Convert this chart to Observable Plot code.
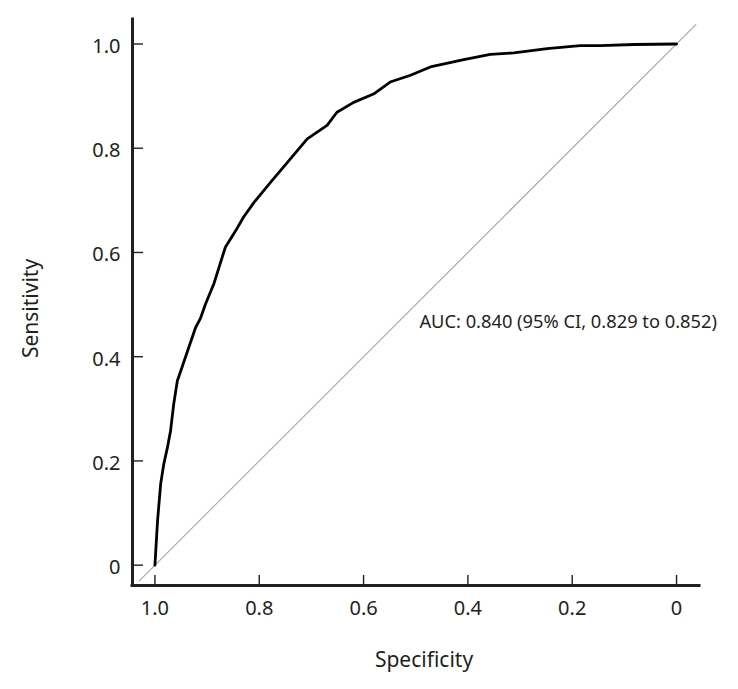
<!DOCTYPE html>
<html>
<head>
<meta charset="utf-8">
<script src="https://cdn.jsdelivr.net/npm/d3@7"></script>
<script src="https://cdn.jsdelivr.net/npm/@observablehq/plot@0.6"></script>
<style>
  html, body { margin: 0; padding: 0; background: #ffffff; }
  #chart { width: 738px; height: 689px; }
</style>
</head>
<body>
<div id="chart"></div>
<script>
// ROC curve (specificity, sensitivity)
const specificity = [1.000, 0.995, 0.989, 0.983, 0.976, 0.970, 0.964, 0.957, 0.951, 0.935, 0.922, 0.913, 0.903, 0.887, 0.877, 0.865, 0.845, 0.830, 0.810, 0.778, 0.746, 0.708, 0.670, 0.651, 0.619, 0.581, 0.549, 0.510, 0.472, 0.408, 0.357, 0.312, 0.248, 0.185, 0.146, 0.082, 0.000];
const sensitivity = [0.000, 0.085, 0.156, 0.194, 0.226, 0.258, 0.309, 0.354, 0.371, 0.418, 0.456, 0.473, 0.501, 0.540, 0.572, 0.610, 0.642, 0.668, 0.696, 0.735, 0.773, 0.818, 0.844, 0.869, 0.888, 0.904, 0.927, 0.940, 0.956, 0.970, 0.980, 0.983, 0.991, 0.997, 0.997, 0.999, 1.000];

// Reference (chance) diagonal end points
const refSpec = [1.03, -0.037];
const refSens = [-0.03, 1.037];

// Axis ticks
const xTicks = [1.0, 0.8, 0.6, 0.4, 0.2, 0];
const xTickLabels = ["1.0", "0.8", "0.6", "0.4", "0.2", "0"];
const yTicks = [0, 0.2, 0.4, 0.6, 0.8, 1.0];
const yTickLabels = ["0", "0.2", "0.4", "0.6", "0.8", "1.0"];

const xDomain = [1.043, -0.044];
const yDomain = [-0.039, 1.047];

const xTitle = "Specificity";
const yTitle = "Sensitivity";
const aucText = "AUC: 0.840 (95% CI, 0.829 to 0.852)";
const aucPos = {spec: 0.493, sens: 0.466};

const curve = specificity.map((s, i) => ({spec: s, sens: sensitivity[i]}));
const diag = refSpec.map((s, i) => ({spec: s, sens: refSens[i]}));
const xFmt = new Map(xTicks.map((t, i) => [t, xTickLabels[i]]));
const yFmt = new Map(yTicks.map((t, i) => [t, yTickLabels[i]]));

const ink = "#231f20";
const W = 738, H = 689;
const mL = 132, mR = 39, mT = 19, mB = 104;
const plotW = W - mL - mR, plotH = H - mT - mB;

const chart = Plot.plot({
  width: W,
  height: H,
  marginLeft: mL,
  marginRight: mR,
  marginTop: mT,
  marginBottom: mB,
  x: {domain: xDomain},
  y: {domain: yDomain},
  style: {fontFamily: "'Noto Sans', 'Open Sans', sans-serif", color: ink, background: "#ffffff", overflow: "visible"},
  marks: [
    // chance line
    Plot.line(diag, {x: "spec", y: "sens", stroke: "#a6a6a6", strokeWidth: 1.1}),
    // ROC curve
    Plot.line(curve, {x: "spec", y: "sens", stroke: "#000000", strokeWidth: 2.8, strokeLinejoin: "round"}),
    // inward ticks
    Plot.ruleX(xTicks, {x: d => d, stroke: ink, strokeWidth: 1.4, insetTop: plotH - 10}),
    Plot.ruleY(yTicks, {y: d => d, stroke: ink, strokeWidth: 1.4, insetRight: plotW - 11}),
    // axis lines
    Plot.ruleY([yDomain[0]], {stroke: ink, strokeWidth: 3, strokeLinecap: "square"}),
    Plot.ruleX([xDomain[0]], {stroke: ink, strokeWidth: 3, strokeLinecap: "square"}),
    // tick labels
    Plot.axisX(xTicks, {tickSize: 0, tickPadding: 15, tickFormat: d => xFmt.get(d), fontSize: 20, label: null, fill: ink}),
    Plot.axisY(yTicks, {tickSize: 0, tickPadding: 12, tickFormat: d => yFmt.get(d), fontSize: 20, label: null, fill: ink, dy: 2.5}),
    // axis titles
    Plot.text([xTitle], {frameAnchor: "bottom", text: d => d, dy: 75, dx: 8, fontSize: 21, fill: ink, textAnchor: "middle", lineAnchor: "middle"}),
    Plot.text([yTitle], {frameAnchor: "left", text: d => d, rotate: -90, dx: -101, dy: 6, fontSize: 21, fill: ink, textAnchor: "middle", lineAnchor: "middle"}),
    // AUC annotation
    Plot.text([aucText], {x: () => aucPos.spec, y: () => aucPos.sens, text: d => d, textAnchor: "start", lineAnchor: "middle", fontSize: 18.3, fill: ink})
  ]
});
document.getElementById("chart").appendChild(chart);
</script>
</body>
</html>
